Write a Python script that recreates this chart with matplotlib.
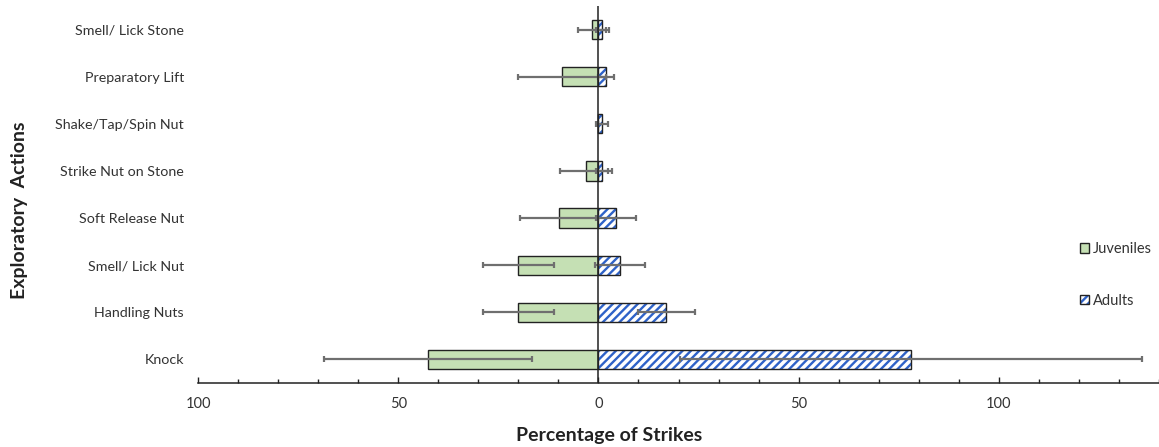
import matplotlib
matplotlib.use("Agg")
import matplotlib.pyplot as plt
from matplotlib.ticker import MultipleLocator, FuncFormatter
from matplotlib.patches import Patch
import numpy as np

# data, top to bottom as in the chart
actions = ["Smell/ Lick Stone", "Preparatory Lift", "Shake/Tap/Spin Nut",
           "Strike Nut on Stone", "Soft Release Nut", "Smell/ Lick Nut",
           "Handling Nuts", "Knock"]
juveniles = [1.5, 9.2, 0.0, 3.2, 9.8, 20.0, 20.0, 42.5]
juveniles_err = [3.5, 11.0, 0.0, 6.5, 9.8, 8.8, 8.8, 26.0]
adults = [1.0, 2.0, 1.0, 1.0, 4.4, 5.4, 17.0, 78.0]
adults_err = [1.6, 2.0, 1.5, 1.5, 4.9, 6.2, 7.2, 57.7]

GREEN = '#C5E0B4'
BLUE = '#2E62C8'
EDGE = '#222222'

plt.rcParams['font.family'] = ['Lato', 'DejaVu Sans']
plt.rcParams['hatch.linewidth'] = 1.7

fig = plt.figure(figsize=(11.59, 4.47), dpi=100)
ax = fig.add_axes([198 / 1159, 64 / 447, 961 / 1159, 377 / 447])

y = np.arange(len(actions))[::-1]
bar_h = 0.41
err_style = dict(ecolor='#6f6f6f', elinewidth=1.6, capsize=2.3, capthick=1.6)

ax.barh(y, -np.array(juveniles), height=bar_h, color=GREEN,
        edgecolor=EDGE, linewidth=1.0, zorder=2)
# hatch takes the edge colour, so draw the blue hatch first and the black outline on top
ax.barh(y, adults, height=bar_h, color='white', edgecolor=BLUE,
        hatch='////', linewidth=0, zorder=2)
ax.barh(y, adults, height=bar_h, fill=False, edgecolor=EDGE,
        linewidth=1.0, zorder=2.1)

ax.errorbar(-np.array(juveniles), y, xerr=juveniles_err, fmt='none', zorder=3, **err_style)
ax.errorbar(adults, y, xerr=adults_err, fmt='none', zorder=3, **err_style)

ax.axvline(0, color=EDGE, linewidth=1.1, zorder=4)

ax.set_xlim(-100, 140)
ax.set_ylim(-0.5, 7.5)

ax.set_yticks(y)
ax.set_yticklabels(actions, fontsize=10.3, color='#333333')
ax.tick_params(axis='y', length=0, pad=10)

ax.xaxis.set_major_locator(MultipleLocator(50))
ax.xaxis.set_minor_locator(MultipleLocator(10))
ax.xaxis.set_major_formatter(FuncFormatter(lambda v, p: f"{abs(v):.0f}"))
ax.tick_params(axis='x', which='major', direction='in', length=4, width=1,
               color=EDGE, labelsize=10.5, labelcolor='#333333', pad=10)
ax.tick_params(axis='x', which='minor', direction='in', length=3, width=1,
               color=EDGE)

for side in ['left', 'right', 'top']:
    ax.spines[side].set_visible(False)
ax.spines['bottom'].set_color(EDGE)
ax.spines['bottom'].set_linewidth(1.1)

fig.text(609 / 1159, 1 - 436 / 447, "Percentage of Strikes", fontsize=14,
         fontweight='bold', color=EDGE, ha='center', va='center')
fig.text(20 / 1159, 1 - 210 / 447, "Exploratory  Actions", rotation=90,
         fontsize=14, fontweight='bold', color=EDGE, ha='center', va='center')

handles = [Patch(facecolor=GREEN, edgecolor=EDGE, linewidth=1.0),
           (Patch(facecolor='white', edgecolor=BLUE, hatch='////', linewidth=0),
            Patch(fill=False, edgecolor=EDGE, linewidth=1.0))]
leg = ax.legend(handles, ["Juveniles", "Adults"], loc='center left',
                bbox_to_anchor=((1080 - 198) / 961, 1 - (275 - 6) / 377),
                frameon=False, fontsize=10.5, labelspacing=2.6,
                handlelength=0.6, handleheight=0.6, handletextpad=0.3,
                borderpad=0, borderaxespad=0)
for t in leg.get_texts():
    t.set_color('#333333')

fig.savefig("out.png", dpi=100)
